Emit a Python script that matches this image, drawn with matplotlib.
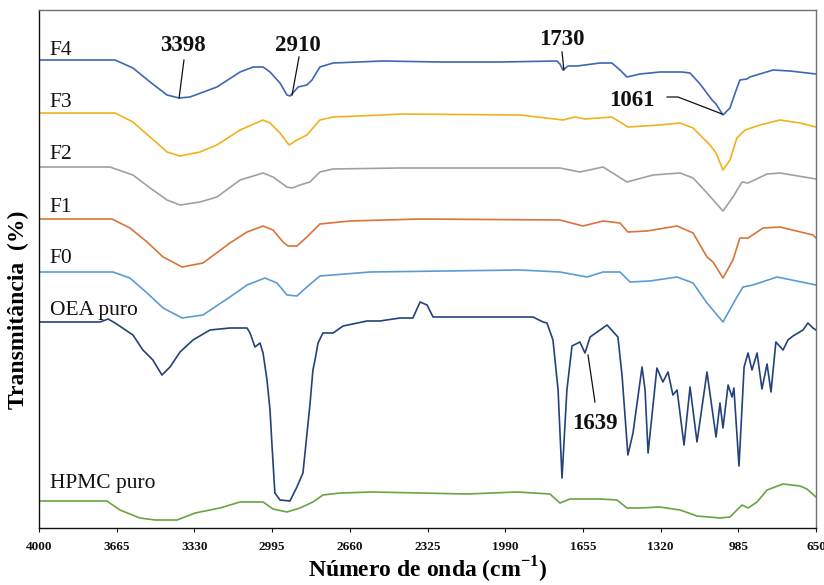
import matplotlib
matplotlib.use("Agg")
import matplotlib.pyplot as plt

plt.rcParams['font.family'] = ['Liberation Serif', 'DejaVu Serif']
plt.rcParams['mathtext.fontset'] = 'custom'
plt.rcParams['mathtext.rm'] = 'Liberation Serif'
plt.rcParams['mathtext.bf'] = 'Liberation Serif:bold'

# ---------------- data (wavenumber cm-1, transmittance in arbitrary stacked units) -------------
f4_w = [4000, 3672, 3595, 3521, 3448, 3396, 3349, 3233, 3133, 3077, 3034, 3004, 2961, 2931, 2918, 2905,
        2883, 2845, 2823, 2789, 2732, 2517, 2271, 2012, 1767, 1754, 1741, 1719, 1680, 1581, 1530, 1495,
        1465, 1409, 1323, 1228, 1193, 1150, 1098, 1081, 1051, 1021, 991, 978, 948, 935, 835, 762, 650]
f4_t = [468, 468, 460, 446, 433, 430, 431, 441, 456, 461, 461, 456, 445, 433, 432, 435,
        441, 443, 448, 461, 465, 467, 466, 466, 467, 464, 458, 462, 462, 465, 465, 458,
        451, 454, 456, 456, 455, 444, 428, 424, 413, 420, 440, 448, 449, 451, 458, 457, 454]

f3_w = [4000, 3672, 3595, 3521, 3448, 3392, 3306, 3233, 3133, 3034, 3004, 2961, 2922, 2888, 2845, 2819,
        2789, 2732, 2517, 2444, 1926, 1741, 1689, 1646, 1530, 1461, 1323, 1236, 1180, 1107, 1081, 1051,
        1021, 991, 956, 891, 805, 719, 650]
f3_t = [415, 415, 406, 391, 376, 372, 376, 383, 398, 408, 405, 395, 383, 388, 393, 400,
        408, 411, 413, 414, 413, 408, 411, 409, 411, 401, 403, 405, 400, 383, 375, 358,
        368, 390, 398, 403, 408, 405, 401]

f2_w = [4000, 3694, 3595, 3521, 3448, 3392, 3306, 3233, 3133, 3034, 2991, 2931, 2909, 2875, 2832, 2789,
        2732, 2444, 1754, 1668, 1568, 1465, 1353, 1236, 1180, 1120, 1051, 1008, 969, 943, 861, 805, 650]
f2_t = [361, 361, 353, 340, 328, 323, 326, 331, 348, 355, 351, 341, 340, 343, 346, 356,
        359, 360, 360, 356, 361, 346, 353, 355, 350, 335, 317, 331, 346, 345, 354, 355, 349]

f1_w = [4000, 3685, 3608, 3534, 3465, 3383, 3293, 3177, 3103, 3034, 2991, 2948, 2926, 2888, 2845, 2789,
        2659, 2357, 1754, 1655, 1568, 1495, 1461, 1379, 1249, 1180, 1120, 1094, 1051, 1008, 978, 943,
        878, 805, 663, 650]
f1_t = [309, 309, 300, 286, 271, 261, 265, 285, 296, 302, 298, 286, 282, 282, 291, 304,
        307, 309, 308, 302, 307, 305, 296, 297, 302, 295, 271, 266, 250, 268, 290, 290,
        300, 301, 293, 290]

f0_w = [4000, 3681, 3608, 3534, 3465, 3383, 3293, 3177, 3103, 3026, 2974, 2931, 2888, 2845, 2789, 2573,
        1926, 1754, 1637, 1568, 1495, 1452, 1366, 1249, 1180, 1120, 1051, 991, 965, 922, 818, 650]
f0_t = [256, 256, 250, 235, 220, 210, 213, 231, 243, 250, 245, 233, 232, 241, 252, 256,
        258, 256, 251, 256, 256, 246, 247, 251, 245, 225, 206, 231, 241, 243, 251, 243]

oea_w = [4000, 3737, 3702, 3672, 3595, 3552, 3509, 3470, 3435, 3392, 3336, 3263, 3177, 3103, 3090, 3069,
         3047, 3034, 3017, 3004, 2995, 2983, 2961, 2918, 2888, 2862, 2832, 2819, 2810, 2797, 2776, 2732,
         2689, 2586, 2530, 2444, 2388, 2357, 2327, 2301, 2155, 1870, 1827, 1810, 1784, 1762, 1745, 1724,
         1702, 1668, 1646, 1624, 1551, 1504, 1486, 1461, 1439, 1400, 1387, 1374, 1336, 1310, 1288, 1267,
         1249, 1219, 1193, 1163, 1120, 1081, 1064, 1051, 1029, 1012, 1004, 982, 960, 943, 926, 904,
         883, 861, 844, 823, 792, 771, 749, 706, 685, 663, 650]
oea_t = [206, 206, 209, 205, 193, 178, 168, 153, 161, 176, 188, 198, 200, 200, 195, 181,
         185, 175, 148, 118, 81, 35, 28, 27, 41, 55, 123, 158, 168, 185, 195, 195,
         202, 207, 207, 210, 210, 226, 223, 211, 211, 211, 206, 205, 188, 138, 50, 138,
         182, 186, 175, 191, 203, 191, 152, 73, 95, 161, 138, 75, 160, 146, 156, 133,
         138, 83, 141, 86, 156, 91, 125, 100, 143, 131, 140, 62, 161, 175, 158, 175,
         139, 164, 136, 186, 178, 188, 192, 198, 205, 200, 198]

hpmc_w = [4000, 3707, 3651, 3565, 3500, 3405, 3327, 3220, 3133, 3034, 2991, 2931, 2875, 2819, 2776, 2702,
          2560, 2155, 1939, 1797, 1754, 1711, 1581, 1508, 1465, 1409, 1323, 1236, 1163, 1064, 1021, 991,
          969, 943, 904, 861, 792, 719, 689, 650]
hpmc_t = [27, 27, 18, 10, 8, 8, 15, 20, 26, 26, 19, 16, 20, 26, 33, 35,
          36, 34, 36, 34, 25, 29, 29, 28, 20, 20, 21, 18, 12, 10, 11, 18,
          23, 20, 26, 38, 44, 42, 39, 31]

series_names = ['F4', 'F3', 'F2', 'F1', 'F0', 'OEA puro', 'HPMC puro']
series_colors = ['#3E66B3', '#F2B11C', '#A0A0A0', '#D9743A', '#5B9BD5', '#24427A', '#6AA340']
series_w = [f4_w, f3_w, f2_w, f1_w, f0_w, oea_w, hpmc_w]
series_t = [f4_t, f3_t, f2_t, f1_t, f0_t, oea_t, hpmc_t]
label_t = [473, 421, 369, 316, 265, 213, 40]   # baseline of each series label

x_ticks = [4000, 3665, 3330, 2995, 2660, 2325, 1990, 1655, 1320, 985, 650]

# peak annotations: label, text position, leader line (w list, t list)
peak_labels = ['3398', '2910', '1730', '1061', '1639']
peak_text_pos = [(3379, 477), (2883, 477), (1745, 483), (1443, 422), (1603, 99)]
peak_lines_w = [[3375, 3396], [2879, 2909], [1745, 1737], [1292, 1245, 1055], [1633, 1603]]
peak_lines_t = [[468, 430], [471, 433], [476, 458], [431, 431, 414], [173, 126]]

# ---------------- figure -------------
fig = plt.figure(figsize=(8.24, 5.85), dpi=100)
ax = fig.add_axes([39 / 824, 1 - 528 / 585, 777 / 824, 518 / 585])

for w, t, c in zip(series_w, series_t, series_colors):
    ax.plot(w, t, color=c, lw=1.2, solid_joinstyle='round')

for name, yt in zip(series_names, label_t):
    ax.text(3953, yt, name, fontsize=15.5, ha='left', va='baseline', color='#111111')

for lab, (px, py), lw_, lt_ in zip(peak_labels, peak_text_pos, peak_lines_w, peak_lines_t):
    ax.plot(lw_, lt_, color='#111111', lw=0.9)
    ax.text(px, py, lab, fontsize=16.5, fontweight='bold', ha='center', va='baseline', color='#111111')

ax.set_xlim(4000, 650)
ax.set_ylim(0, 518)
ax.set_xticks(x_ticks)
ax.set_xticklabels([str(v) for v in x_ticks], fontsize=9.5, fontweight='bold')
ax.set_yticks([])
ax.tick_params(axis='x', direction='out', length=3, width=0.8, pad=6, colors='#111111')

for s in ['left', 'bottom']:
    ax.spines[s].set_color('#111111')
    ax.spines[s].set_linewidth(1.0)
for s in ['top', 'right']:
    ax.spines[s].set_color('#6f6f6f')
    ax.spines[s].set_linewidth(1.0)

fig.text(428 / 824, 1 - 578 / 585, r'Número de onda (cm$^{\mathbf{-1}}$)', fontsize=17,
         fontweight='bold', ha='center', va='baseline')
fig.text(18 / 824, 1 - 310 / 585, 'Transmitância  (%)', fontsize=17, fontweight='bold',
         rotation=90, ha='center', va='center')

fig.savefig('out.png', dpi=100)
